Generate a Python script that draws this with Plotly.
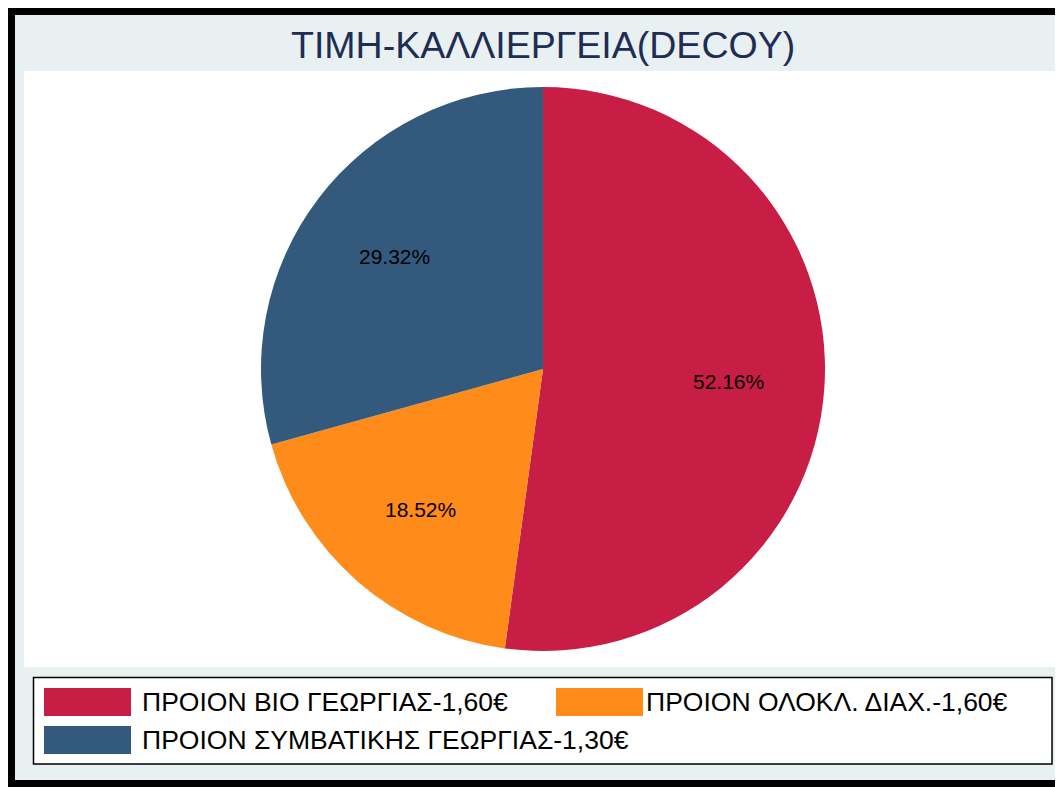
import math
import plotly.graph_objects as go

W, H = 1063, 787
OFF = 8  # page body margin offset

title_text = "ΤΙΜΗ-ΚΑΛΛΙΕΡΓΕΙΑ(DECOY)"
labels = ["ΠΡΟΙΟΝ ΒΙΟ ΓΕΩΡΓΙΑΣ-1,60€", "ΠΡΟΙΟΝ ΟΛΟΚΛ. ΔΙΑΧ.-1,60€", "ΠΡΟΙΟΝ ΣΥΜΒΑΤΙΚΗΣ ΓΕΩΡΓΙΑΣ-1,30€"]
values = [52.16, 18.52, 29.32]
colors = ["#C81E46", "#FF8C1A", "#33597D"]

FONT = "Liberation Sans, Arial, sans-serif"


def px(x):
    return (x - OFF) / W


def py(y):
    return 1 - (y - OFF) / H


# pie geometry (screen pixels)
cx, cy, r = 543, 369, 282

fig = go.Figure()
fig.add_trace(go.Pie(
    labels=labels,
    values=values,
    marker=dict(colors=colors, line=dict(width=0)),
    sort=False,
    direction="clockwise",
    rotation=0,
    textinfo="none",
    hoverinfo="label+percent",
    showlegend=False,
    domain=dict(x=[px(cx - r), px(cx + r)], y=[py(cy + r), py(cy - r)]),
))

shapes = [
    dict(type="rect", xref="paper", yref="paper", x0=px(7), x1=px(1090), y0=py(7), y1=py(810),
         fillcolor="black", line=dict(width=0), layer="below"),
    dict(type="rect", xref="paper", yref="paper", x0=px(15), x1=px(1090), y0=py(15), y1=py(780),
         fillcolor="#E8F0F2", line=dict(width=0), layer="below"),
    dict(type="rect", xref="paper", yref="paper", x0=px(24), x1=px(1061), y0=py(71), y1=py(667),
         fillcolor="white", line=dict(width=0), layer="below"),
    # legend box
    dict(type="rect", xref="paper", yref="paper", x0=px(33.5), x1=px(1052), y0=py(677.5), y1=py(764),
         fillcolor="white", line=dict(color="black", width=1.5), layer="below"),
]

annotations = [
    dict(text=title_text, x=px(543), y=py(45), xref="paper", yref="paper", showarrow=False,
         xanchor="center", yanchor="middle", font=dict(family=FONT, size=37.5, color="#1E2D53")),
]

# slice labels at 0.66 radius along mid-angle
total = sum(values)
cum = 0.0
for v in values:
    mid = (cum + v / 2) / total * 2 * math.pi
    cum += v
    lx = cx + 0.66 * r * math.sin(mid)
    ly = cy - 0.66 * r * math.cos(mid)
    annotations.append(dict(text=f"{v / total * 100:.2f}%", x=px(lx), y=py(ly), xref="paper", yref="paper",
                            showarrow=False, xanchor="center", yanchor="middle",
                            font=dict(family=FONT, size=21, color="black")))

# custom legend
legend_pos = [(44, 688, 96), (556, 688, 88), (44, 726, 96)]
for lab, col, (lx, ly, tx) in zip(labels, colors, legend_pos):
    shapes.append(dict(type="rect", xref="paper", yref="paper", x0=px(lx), x1=px(lx + 87),
                       y0=py(ly), y1=py(ly + 28), fillcolor=col, line=dict(width=0)))
    annotations.append(dict(text=lab, x=px(lx + tx), y=py(ly + 14), xref="paper", yref="paper",
                            showarrow=False, xanchor="left", yanchor="middle",
                            font=dict(family=FONT, size=26.5, color="black")))

fig.update_layout(
    width=W, height=H,
    margin=dict(l=0, r=0, t=0, b=0),
    paper_bgcolor="white",
    plot_bgcolor="white",
    shapes=shapes,
    annotations=annotations,
    showlegend=False,
)

fig.write_html("out.html")
